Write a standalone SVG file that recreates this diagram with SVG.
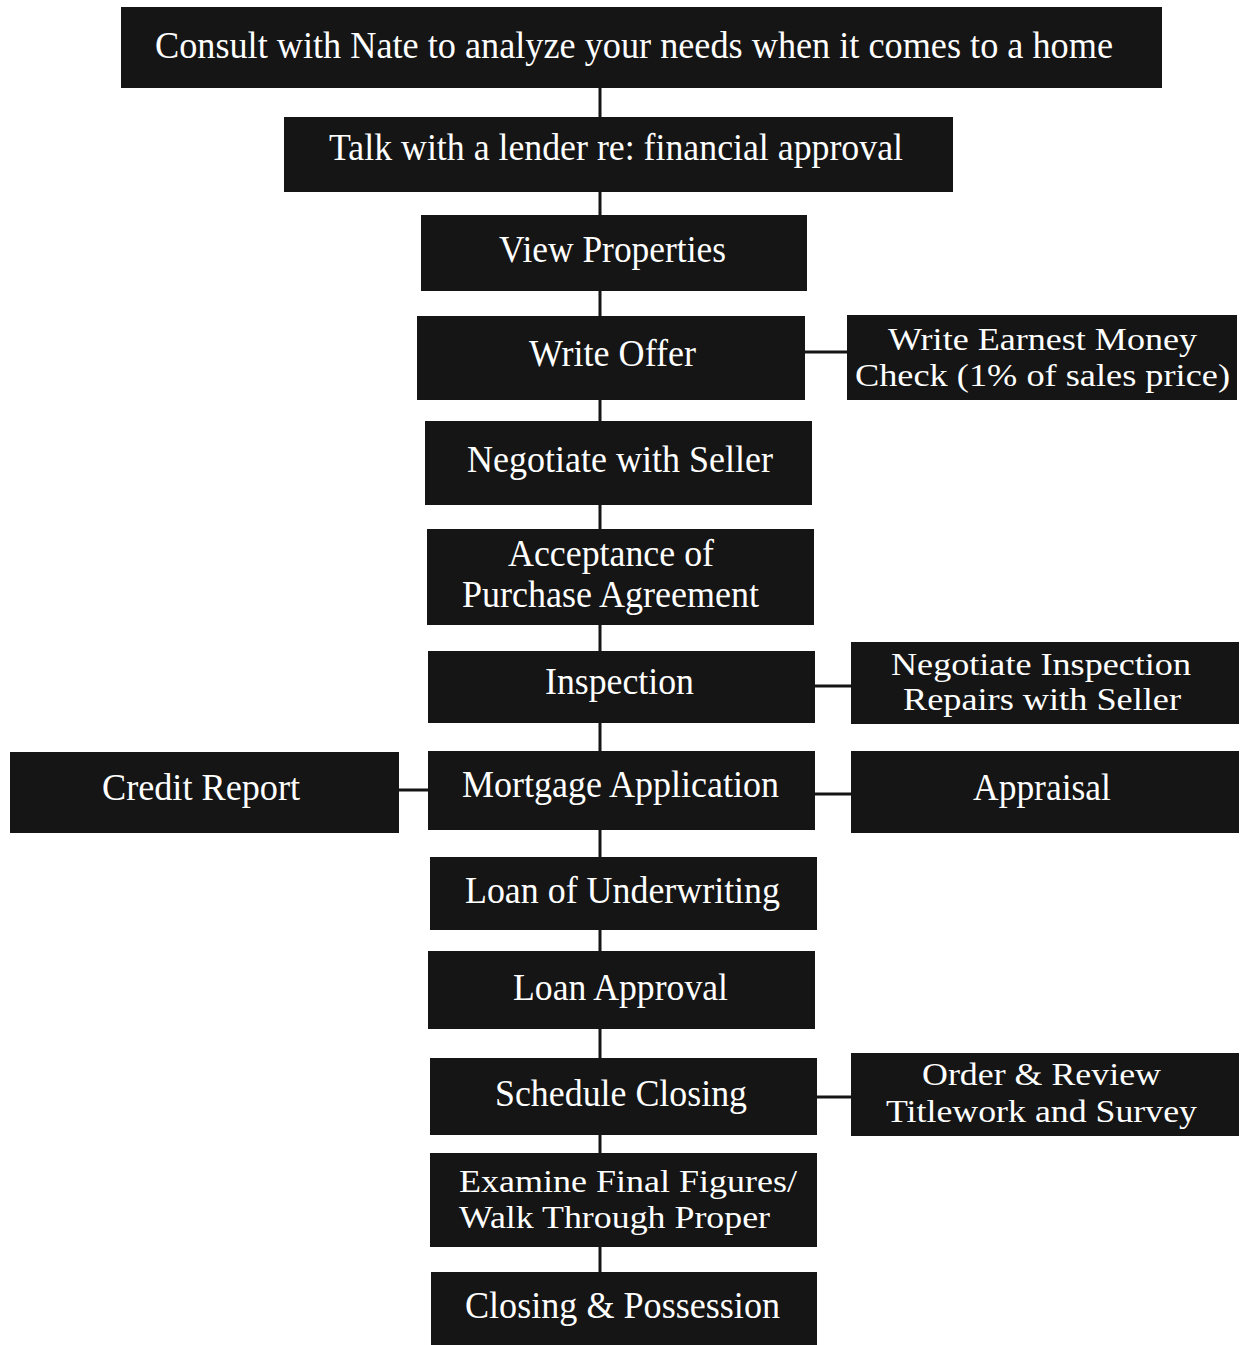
<svg xmlns="http://www.w3.org/2000/svg" width="1240" height="1345" viewBox="0 0 1240 1345">
<style>
.b{fill:#151515}
.t{fill:#fff;font-family:"Liberation Serif","Times New Roman",serif;font-size:37px}
.s{font-size:32px}
.c{stroke:#151515;stroke-width:3;fill:none}
</style>
<rect width="1240" height="1345" fill="#fff"/>
<g id="connectors">
<path class="c" d="M600 88V117M600 192V215M600 291V316M600 400V421M600 505V529M600 625V651M600 723V751M600 830V857M600 930V951M600 1029V1058M600 1135V1153M600 1247V1272"/>
<path class="c" d="M805 352H847M815 686H851M399 790H428M815 794H851M817 1097H851"/>
</g>
<g id="n1"><rect class="b" x="121" y="7" width="1041" height="81"/><text class="t" x="155" y="58" textLength="958" lengthAdjust="spacingAndGlyphs">Consult with Nate to analyze your needs when it comes to a home</text></g>
<g id="n2"><rect class="b" x="284" y="117" width="669" height="75"/><text class="t" x="329" y="160" textLength="574" lengthAdjust="spacingAndGlyphs">Talk with a lender re: financial approval</text></g>
<g id="n3"><rect class="b" x="421" y="215" width="386" height="76"/><text class="t" x="499" y="262" textLength="227" lengthAdjust="spacingAndGlyphs">View Properties</text></g>
<g id="n4"><rect class="b" x="417" y="316" width="388" height="84"/><text class="t" x="529" y="366" textLength="167" lengthAdjust="spacingAndGlyphs">Write Offer</text></g>
<g id="n5"><rect class="b" x="847" y="315" width="390" height="85"/><text class="t s" x="888" y="350" textLength="309" lengthAdjust="spacingAndGlyphs">Write Earnest Money</text><text class="t s" x="855" y="386" textLength="375" lengthAdjust="spacingAndGlyphs">Check (1% of sales price)</text></g>
<g id="n6"><rect class="b" x="425" y="421" width="387" height="84"/><text class="t" x="467" y="472" textLength="306" lengthAdjust="spacingAndGlyphs">Negotiate with Seller</text></g>
<g id="n7"><rect class="b" x="427" y="529" width="387" height="96"/><text class="t" x="508" y="566" textLength="206" lengthAdjust="spacingAndGlyphs">Acceptance of</text><text class="t" x="462" y="607" textLength="297" lengthAdjust="spacingAndGlyphs">Purchase Agreement</text></g>
<g id="n8"><rect class="b" x="428" y="651" width="387" height="72"/><text class="t" x="545" y="694" textLength="149" lengthAdjust="spacingAndGlyphs">Inspection</text></g>
<g id="n9"><rect class="b" x="851" y="642" width="388" height="82"/><text class="t s" x="891" y="675" textLength="300" lengthAdjust="spacingAndGlyphs">Negotiate Inspection</text><text class="t s" x="903" y="710" textLength="278" lengthAdjust="spacingAndGlyphs">Repairs with Seller</text></g>
<g id="n10"><rect class="b" x="10" y="752" width="389" height="81"/><text class="t" x="102" y="800" textLength="198" lengthAdjust="spacingAndGlyphs">Credit Report</text></g>
<g id="n11"><rect class="b" x="428" y="751" width="387" height="79"/><text class="t" x="462" y="797" textLength="317" lengthAdjust="spacingAndGlyphs">Mortgage Application</text></g>
<g id="n12"><rect class="b" x="851" y="751" width="388" height="82"/><text class="t" x="973" y="800" textLength="138" lengthAdjust="spacingAndGlyphs">Appraisal</text></g>
<g id="n13"><rect class="b" x="430" y="857" width="387" height="73"/><text class="t" x="465" y="903" textLength="315" lengthAdjust="spacingAndGlyphs">Loan of Underwriting</text></g>
<g id="n14"><rect class="b" x="428" y="951" width="387" height="78"/><text class="t" x="513" y="1000" textLength="215" lengthAdjust="spacingAndGlyphs">Loan Approval</text></g>
<g id="n15"><rect class="b" x="430" y="1058" width="387" height="77"/><text class="t" x="495" y="1106" textLength="252" lengthAdjust="spacingAndGlyphs">Schedule Closing</text></g>
<g id="n16"><rect class="b" x="851" y="1053" width="388" height="83"/><text class="t s" x="922" y="1085" textLength="239" lengthAdjust="spacingAndGlyphs">Order &amp; Review</text><text class="t s" x="886" y="1122" textLength="311" lengthAdjust="spacingAndGlyphs">Titlework and Survey</text></g>
<g id="n17"><rect class="b" x="430" y="1153" width="387" height="94"/><text class="t s" x="459" y="1192" textLength="338" lengthAdjust="spacingAndGlyphs">Examine Final Figures/</text><text class="t s" x="459" y="1228" textLength="311" lengthAdjust="spacingAndGlyphs">Walk Through Proper</text></g>
<g id="n18"><rect class="b" x="431" y="1272" width="386" height="73"/><text class="t" x="465" y="1318" textLength="315" lengthAdjust="spacingAndGlyphs">Closing &amp; Possession</text></g>
</svg>
